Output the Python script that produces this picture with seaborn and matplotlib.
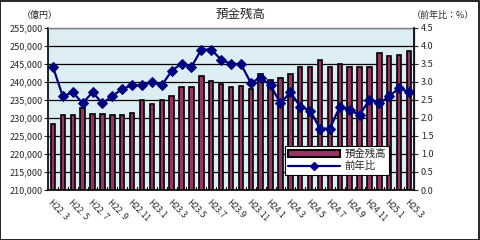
import numpy as np
import pandas as pd
import matplotlib
matplotlib.use("Agg")
import matplotlib.pyplot as plt
import seaborn as sns
from matplotlib.ticker import FuncFormatter

months = ["H22. 3", "H22.4", "H22. 5", "H22.6", "H22. 7", "H22.8", "H22. 9", "H22.10",
          "H22.11", "H22.12", "H23.1", "H23.2", "H23.3", "H23.4", "H23.5", "H23.6",
          "H23.7", "H23.8", "H23.9", "H23.10", "H23.11", "H23.12", "H24.1", "H24.2",
          "H24.3", "H24.4", "H24.5", "H24.6", "H24.7", "H24.8", "H24.9", "H24.10",
          "H24.11", "H24.12", "H25.1", "H25.2", "H25.3"]

balance = [228200, 230750, 230750, 232700, 231000, 231000, 230750, 230750, 231300,
           234800, 233800, 234800, 235900, 238600, 238600, 241700, 240300, 239400,
           238600, 238900, 238100, 242100, 240600, 240900, 242100, 244200, 244000,
           245900, 244200, 244800, 244200, 244000, 244200, 248000, 247000, 247500,
           248400]

yoy = [3.41, 2.59, 2.71, 2.40, 2.71, 2.40, 2.60, 2.80, 2.90, 2.90, 2.99, 2.90, 3.30,
       3.50, 3.41, 3.89, 3.89, 3.61, 3.49, 3.49, 2.97, 3.11, 2.90, 2.40, 2.71, 2.31,
       2.20, 1.70, 1.70, 2.31, 2.21, 2.08, 2.50, 2.40, 2.60, 2.82, 2.71]

title = "預金残高"
left_unit = "（億円）"
right_unit = "（前年比：%）"
bar_label = "預金残高"
line_label = "前年比"

df = pd.DataFrame({"month": months, "balance": balance, "yoy": yoy,
                   "idx": np.arange(len(months))})

sns.set_theme(style="white")
plt.rcParams["font.family"] = ["Noto Sans CJK JP", "DejaVu Sans"]

fig = plt.figure(figsize=(4.8, 2.4), dpi=100)
fig.patch.set_facecolor("white")
ax = fig.add_axes([0.100, 0.2083, 0.7625, 0.677])
ax.set_facecolor("#DCEEF4")

sns.barplot(data=df, x="month", y="balance", ax=ax, color="#993366",
            saturation=1, width=0.45, edgecolor="black", linewidth=1.2,
            label=bar_label, legend=False)
ax.set_ylim(210000, 255000)
ax.set_yticks(np.arange(210000, 255001, 5000))
ax.yaxis.set_major_formatter(FuncFormatter(lambda v, p: f"{int(v):,}"))
ax.grid(axis="y", color="black", linewidth=0.9)
ax.set_axisbelow(True)
ax.set_xlim(-0.5, len(months) - 0.5)
ax.set_xlabel("")
ax.set_ylabel("")

xt = np.arange(0, len(months), 2)
ax.set_xticks(xt)
ax.set_xticklabels([months[i] for i in xt], rotation=-45, ha="left", va="top",
                   rotation_mode="anchor", fontsize=6)
ax.tick_params(axis="x", length=0, pad=6)
ax.tick_params(axis="y", labelsize=6.5, length=3, width=0.8, direction="out", left=True, pad=1)

for s in ["left", "bottom"]:
    ax.spines[s].set_color("black")
    ax.spines[s].set_linewidth(1.2)
for s in ["top", "right"]:
    ax.spines[s].set_color("#808080")
    ax.spines[s].set_linewidth(1.0)

ax2 = ax.twinx()
sns.lineplot(data=df, x="idx", y="yoy", ax=ax2, color="#000080", linewidth=1.6,
             marker="D", markersize=5, markeredgecolor="#000080", label=line_label,
             legend=False)
ax2.set_ylim(0, 4.5)
ax2.set_yticks(np.arange(0, 4.51, 0.5))
ax2.yaxis.set_major_formatter(FuncFormatter(lambda v, p: f"{v:.1f}"))
ax2.set_xlim(-0.5, len(months) - 0.5)
ax2.set_ylabel("")
ax2.set_xlabel("")
ax2.tick_params(axis="y", labelsize=6.5, length=3, width=0.8, direction="out", right=True, pad=2)
ax2.spines["right"].set_color("black")
ax2.spines["right"].set_linewidth(1.2)
for s in ["top", "left", "bottom"]:
    ax2.spines[s].set_visible(False)

# category boundary ticks on the bottom axis
for b in np.arange(0.5, len(months) - 0.5, 1):
    ax.plot([b, b], [210000, 210700], color="black", linewidth=0.8, clip_on=False, zorder=5)

h1 = matplotlib.patches.Patch(facecolor="#993366", edgecolor="black", linewidth=1.5)
h2 = matplotlib.lines.Line2D([], [], color="#000080", linewidth=1.6, marker="D", markersize=4)
leg = ax2.legend([h1, h2], [bar_label, line_label], loc="lower left",
                 bbox_to_anchor=(0.648, 0.095), frameon=True, fancybox=False,
                 edgecolor="black", fontsize=7.5, handlelength=5.0, handleheight=0.55,
                 borderpad=0.3, labelspacing=0.2, handletextpad=0.4, borderaxespad=0)
leg.get_frame().set_linewidth(0.8)
leg.get_frame().set_facecolor("white")
leg.get_frame().set_alpha(1)

fig.text(0.502, 0.94, title, ha="center", va="center", fontsize=9)
fig.text(0.083, 0.935, left_unit, ha="center", va="center", fontsize=6.5)
fig.text(0.922, 0.935, right_unit, ha="center", va="center", fontsize=6.5)

border = matplotlib.patches.Rectangle((0.001, 0.002), 0.997, 0.994, transform=fig.transFigure,
                                      fill=False, edgecolor="black", linewidth=1.2)
fig.patches.append(border)

fig.savefig("out.png", dpi=100, facecolor="white")
